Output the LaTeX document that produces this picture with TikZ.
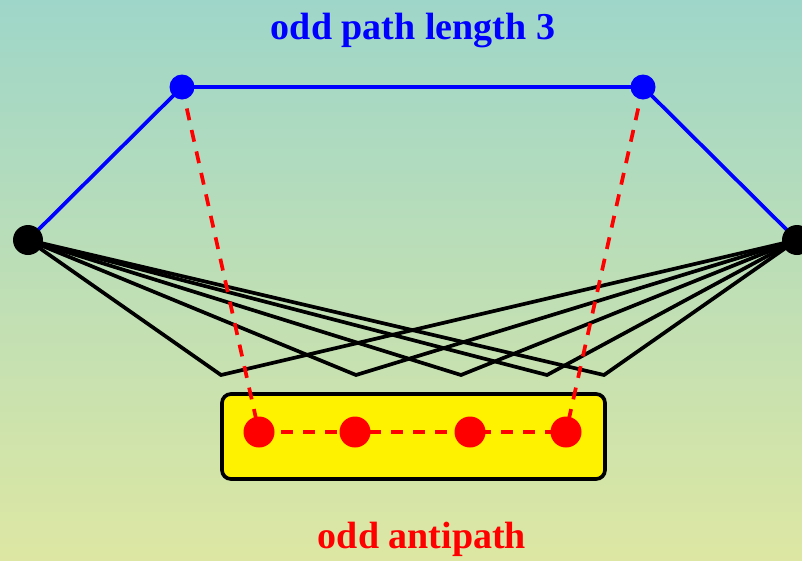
\documentclass[tikz,border=0pt]{standalone}
\usepackage{fontspec}
\setmainfont{Liberation Serif}
\definecolor{bgtop}{RGB}{158,214,201}
\definecolor{bgbot}{RGB}{221,231,163}
\begin{document}
\begin{tikzpicture}[x=1pt,y=-1pt,
  pathv/.style={circle, fill=blue, inner sep=0pt, minimum size=25pt},
  endv/.style={circle, fill=black, inner sep=0pt, minimum size=30pt},
  antiv/.style={circle, fill=red, inner sep=0pt, minimum size=31pt},
  pathe/.style={blue, line width=3.7pt},
  antie/.style={red, line width=3.7pt, dash pattern=on 12pt off 10pt},
  fane/.style={black, line width=3.7pt},
  lbl/.style={font=\fontsize{38}{40}\selectfont\bfseries, anchor=base}]
\useasboundingbox (0,0) rectangle (802,560);
\fill[top color=bgtop, bottom color=bgbot] (0,0) rectangle (802,560);

\coordinate(L) at (28,240);
\coordinate(R) at (797,240);
\coordinate(P1) at (182,87);
\coordinate(P2) at (643,87);
\coordinate(B1) at (221,375);
\coordinate(B2) at (356,375);
\coordinate(B3) at (461,375);
\coordinate(B4) at (547,375);
\coordinate(B5) at (604,375);
\coordinate(A1) at (259,432);
\coordinate(A2) at (355,432);
\coordinate(A3) at (470,432);
\coordinate(A4) at (566,432);

\foreach \i in {1,...,5}
  \draw[fane] (L) -- (B\i) -- (R);
\draw[pathe] (L) -- (P1) -- (P2) -- (R);

\node(Box)[draw, line width=3.7pt, fill=yellow, rounded corners=9pt,
  minimum width=383pt, minimum height=85pt] at (413.5,436.5) {};

\draw[antie] (P1) -- (A1);
\draw[antie] (P2) -- (A4);
\draw[antie] (A1) -- (A2) -- (A3) -- (A4);

\node(NL)[endv] at (L) {};
\node(NR)[endv] at (R) {};
\node(NP1)[pathv] at (P1) {};
\node(NP2)[pathv] at (P2) {};
\foreach \i in {1,...,4}
  \node(NA\i)[antiv] at (A\i) {};

\node(Title)[lbl, text=blue] at (413,39) {odd path length 3};
\node(Anti)[lbl, text=red] at (422,548) {odd antipath};
\end{tikzpicture}
\end{document}
